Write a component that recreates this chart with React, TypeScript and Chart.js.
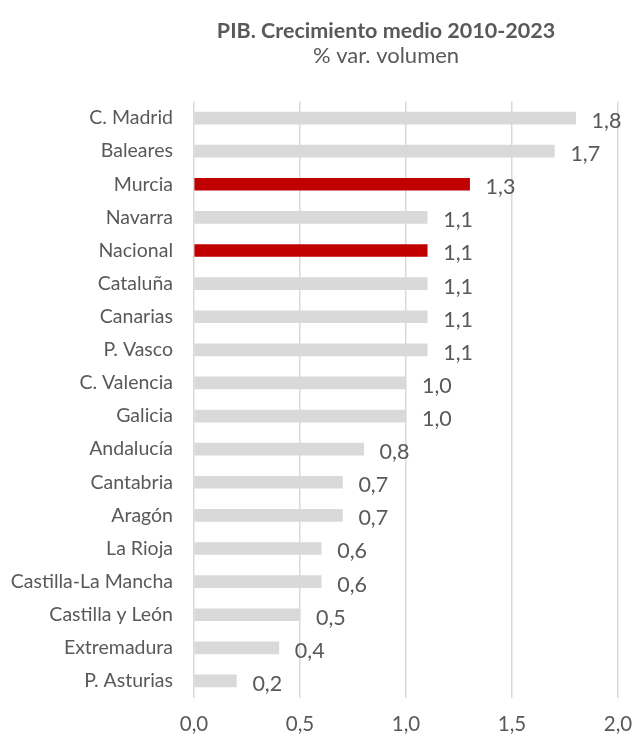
import React, { useEffect, useRef } from "react";
import { Chart, registerables } from "chart.js";

Chart.register(...registerables);

const categories = [
  "C. Madrid", "Baleares", "Murcia", "Navarra", "Nacional", "Cataluña", "Canarias", "P. Vasco",
  "C. Valencia", "Galicia", "Andalucía", "Cantabria", "Aragón", "La Rioja", "Castilla-La Mancha",
  "Castilla y León", "Extremadura", "P. Asturias",
];
const values = [1.8, 1.7, 1.3, 1.1, 1.1, 1.1, 1.1, 1.1, 1.0, 1.0, 0.8, 0.7, 0.7, 0.6, 0.6, 0.5, 0.4, 0.2];
const highlighted = ["Murcia", "Nacional"];
const xTicks = [0, 0.5, 1, 1.5, 2];
const title = "PIB. Crecimiento medio 2010-2023";
const subtitle = "% var. volumen";

const FONT = "Lato, 'Open Sans', sans-serif";
const TEXT = "#595959";

const fmt = (v: number) => v.toFixed(1).replace(".", ",");

export default function App() {
  const ref = useRef<HTMLCanvasElement>(null);
  useEffect(() => {
    document.body.style.margin = "0";
    const labelPlugin = {
      id: "labelsAndTitle",
      afterDatasetsDraw(chart: any) {
        const ctx = chart.ctx;
        const meta = chart.getDatasetMeta(0);
        ctx.save();
        ctx.fillStyle = TEXT;
        ctx.font = `21.5px ${FONT}`;
        ctx.textAlign = "left";
        ctx.textBaseline = "middle";
        meta.data.forEach((bar: any, i: number) => {
          ctx.fillText(fmt(values[i]), bar.x + 16, bar.y + 3);
        });
        const cx = 386;
        ctx.textAlign = "center";
        ctx.font = `bold 21.5px ${FONT}`;
        ctx.fillText(title, cx, 31);
        ctx.font = `22px ${FONT}`;
        ctx.fillText(subtitle, cx, 56);
        ctx.restore();
      },
    };
    const chart = new Chart(ref.current!, {
      type: "bar",
      data: {
        labels: categories,
        datasets: [
          {
            data: values,
            backgroundColor: categories.map((c) => (highlighted.includes(c) ? "#c00000" : "#d9d9d9")),
            barThickness: 12,
          },
        ],
      },
      options: {
        indexAxis: "y",
        animation: false,
        responsive: false,
        layout: { padding: { top: 101.5, right: 17, bottom: 0, left: 0 } },
        plugins: { legend: { display: false }, tooltip: { enabled: false }, title: { display: false } },
        scales: {
          x: {
            min: 0,
            max: 2,
            afterBuildTicks: (s: any) => {
              s.ticks = xTicks.map((v) => ({ value: v }));
            },
            afterFit: (s: any) => {
              s.height = 42.5;
              s.paddingLeft = 0;
              s.paddingRight = 0;
            },
            grid: { color: "#d9d9d9", lineWidth: 1.5, drawTicks: false },
            border: { display: false },
            ticks: {
              padding: 15,
              color: TEXT,
              font: { family: FONT, size: 20.5 },
              callback: (v: any) => fmt(Number(v)),
            },
          },
          y: {
            afterFit: (s: any) => {
              s.width = 194;
              s.paddingTop = 0;
              s.paddingBottom = 0;
            },
            grid: { display: false, drawTicks: false },
            border: { display: false },
            ticks: {
              padding: 21,
              color: TEXT,
              font: { family: FONT, size: 19.5 },
            },
          },
        },
      },
      plugins: [labelPlugin],
    });
    return () => chart.destroy();
  }, []);
  return (
    <div style={{ width: 635, height: 740 }}>
      <canvas ref={ref} width={635} height={740} style={{ display: "block" }} />
    </div>
  );
}
